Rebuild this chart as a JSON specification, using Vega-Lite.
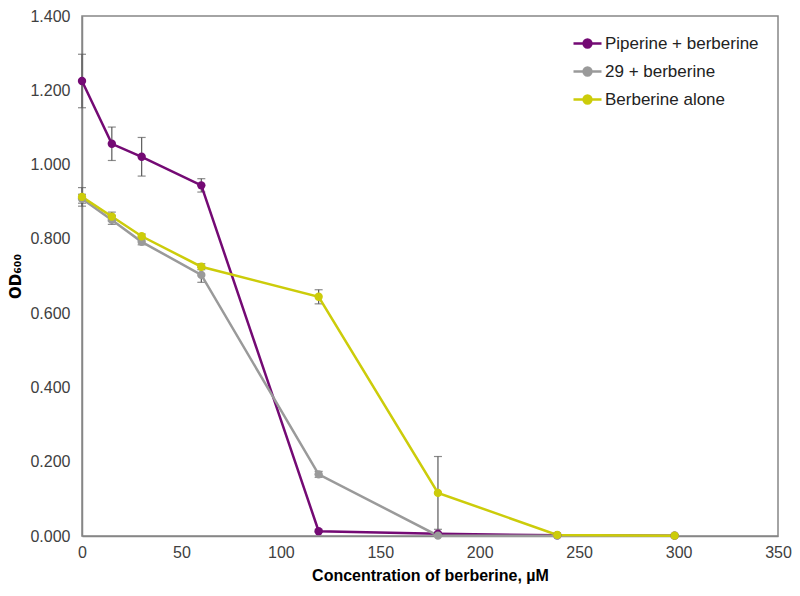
{
  "$schema": "https://vega.github.io/schema/vega-lite/v6.json",
  "autosize": {"type": "none"},
  "padding": {"left": 82, "top": 16, "right": 22, "bottom": 60},
  "width": 696,
  "height": 520,
  "background": "white",
  "config": {
    "font": "Liberation Sans",
    "view": {"stroke": "#868686", "strokeWidth": 1.5},
    "axis": {
      "grid": false,
      "ticks": false,
      "labelFlush": false,
      "domainColor": "#868686",
      "domainWidth": 1.5,
      "labelFont": "Liberation Sans",
      "labelFontSize": 16,
      "labelColor": "#404040",
      "titleFont": "Liberation Sans",
      "titleFontSize": 16,
      "titleFontWeight": "bold",
      "titleColor": "#000000"
    }
  },
  "data": {
    "values": [
      {"series": "Piperine + berberine", "conc": 0, "od": 1.225, "err": 0.072},
      {"series": "Piperine + berberine", "conc": 15, "od": 1.056, "err": 0.045},
      {"series": "Piperine + berberine", "conc": 30, "od": 1.021, "err": 0.052},
      {"series": "Piperine + berberine", "conc": 60, "od": 0.944, "err": 0.018},
      {"series": "Piperine + berberine", "conc": 119, "od": 0.013, "err": 0.003},
      {"series": "Piperine + berberine", "conc": 179, "od": 0.006, "err": 0.002},
      {"series": "Piperine + berberine", "conc": 239, "od": 0.002, "err": 0.001},
      {"series": "Piperine + berberine", "conc": 298, "od": 0.001, "err": 0.001},
      {"series": "29 + berberine", "conc": 0, "od": 0.908, "err": 0.012},
      {"series": "29 + berberine", "conc": 15, "od": 0.851, "err": 0.012},
      {"series": "29 + berberine", "conc": 30, "od": 0.792, "err": 0.008},
      {"series": "29 + berberine", "conc": 60, "od": 0.703, "err": 0.02},
      {"series": "29 + berberine", "conc": 119, "od": 0.166, "err": 0.008},
      {"series": "29 + berberine", "conc": 179, "od": 0.001, "err": 0.001},
      {"series": "29 + berberine", "conc": 239, "od": 0.001, "err": 0.001},
      {"series": "29 + berberine", "conc": 298, "od": 0.001, "err": 0.001},
      {"series": "Berberine alone", "conc": 0, "od": 0.913, "err": 0.025},
      {"series": "Berberine alone", "conc": 15, "od": 0.86, "err": 0.012},
      {"series": "Berberine alone", "conc": 30, "od": 0.807, "err": 0.006},
      {"series": "Berberine alone", "conc": 60, "od": 0.725, "err": 0.008},
      {"series": "Berberine alone", "conc": 119, "od": 0.644, "err": 0.019},
      {"series": "Berberine alone", "conc": 179, "od": 0.116, "err": 0.098},
      {"series": "Berberine alone", "conc": 239, "od": 0.003, "err": 0.001},
      {"series": "Berberine alone", "conc": 298, "od": 0.001, "err": 0.001}
    ]
  },
  "encoding": {
    "x": {
      "field": "conc",
      "type": "quantitative",
      "scale": {"domain": [0, 350], "nice": false},
      "axis": {
        "values": [0, 50, 100, 150, 200, 250, 300, 350],
        "title": "Concentration of berberine, µM",
        "labelPadding": 8,
        "titlePadding": 7
      }
    },
    "y": {
      "field": "od",
      "type": "quantitative",
      "scale": {"domain": [0, 1.4], "nice": false},
      "axis": {
        "values": [0, 0.2, 0.4, 0.6, 0.8, 1.0, 1.2, 1.4],
        "format": ".3f",
        "title": "OD₆₀₀",
        "titleFont": "DejaVu Sans",
        "titleFontSize": 15,
        "labelPadding": 12,
        "titlePadding": 6
      }
    }
  },
  "layer": [
    {
      "mark": {"type": "errorbar", "ticks": {"size": 8, "color": "#5a5a5a"}, "rule": {"color": "#5a5a5a"}, "thickness": 1.2},
      "encoding": {
        "yError": {"field": "err"},
        "detail": {"field": "series"}
      }
    },
    {
      "mark": {"type": "line", "strokeWidth": 2.5, "point": {"filled": true, "size": 70}},
      "encoding": {
        "color": {
          "field": "series",
          "type": "nominal",
          "scale": {
            "domain": ["Piperine + berberine", "29 + berberine", "Berberine alone"],
            "range": ["#740a74", "#9a9a9a", "#cccc0a"]
          },
          "legend": {
            "title": null,
            "orient": "none",
            "legendX": 490,
            "legendY": 12,
            "symbolType": "M-1,0L1,0M-0.28,0A0.28,0.28 0 1,0 0.28,0A0.28,0.28 0 1,0 -0.28,0Z",
            "symbolSize": 784,
            "symbolStrokeWidth": 2.5,
            "labelFontSize": 17,
            "labelFont": "Liberation Sans",
            "labelColor": "#222222",
            "labelOffset": 2,
            "rowPadding": 3,
            "padding": 0,
            "encode": {
              "symbols": {"update": {"fill": {"scale": "color", "field": "value"}}}
            }
          }
        },
        "order": {"field": "conc", "type": "quantitative"}
      }
    }
  ]
}
